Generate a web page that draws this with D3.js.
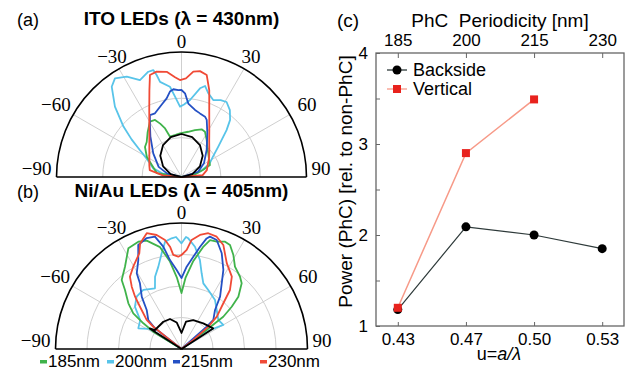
<!DOCTYPE html>
<html>
<head>
<meta charset="utf-8">
<script src="https://cdn.jsdelivr.net/npm/d3@7"></script>
<style>
  body { margin: 0; background: #fff; }
  svg { display: block; font-family: Arial, "Liberation Sans", sans-serif; }
</style>
</head>
<body>
<div id="chart"></div>
<script>
// ---------------- data ----------------

// panel (a) ITO LEDs, [angle deg, intensity rel. to outer ring], in drawing order
const ito185 = [[-90,0],[-81,0.2],[-60,0.32],[-50.6,0.378],[-44.8,0.395],[-37,0.45],[-29.7,0.51],[-24.9,0.503],[-21.8,0.46],[-18.7,0.41],[-15.9,0.335],[-8,0.34],[-2,0.35],[8.5,0.366],[16,0.39],[22.9,0.414],[27.4,0.408],[34.3,0.358],[40.4,0.318],[48.5,0.286],[58,0.26],[67.2,0.247],[72,0.18],[80,0.1],[90,0]];
const ito200 = [[-90,0],[-80,0.15],[-73,0.236],[-62.6,0.31],[-57,0.40],[-53,0.50],[-49,0.615],[-43.4,0.775],[-37.7,0.913],[-34,0.952],[-28.6,0.914],[-23.2,0.844],[-17.5,0.883],[-14.8,0.885],[-13.7,0.84],[-12.7,0.78],[-7.3,0.728],[-4.6,0.645],[-1.2,0.563],[2,0.58],[6.3,0.62],[11.8,0.725],[14.5,0.752],[17.8,0.703],[22.4,0.666],[27,0.69],[31,0.70],[35.9,0.66],[40.4,0.60],[43.9,0.52],[50.5,0.38],[57,0.30],[64.3,0.25],[72,0.17],[80,0.1],[90,0]];
const ito215 = [[-90,0],[-76,0.12],[-66,0.2],[-50,0.295],[-37.4,0.41],[-30.4,0.5],[-27,0.556],[-22.6,0.552],[-15.4,0.6],[-10.7,0.64],[-7.7,0.69],[-5.3,0.705],[-2.1,0.696],[0,0.696],[2.4,0.67],[5.3,0.59],[11.4,0.547],[16.2,0.53],[21.3,0.518],[23.8,0.5],[30.6,0.406],[43,0.295],[58.7,0.21],[72.5,0.14],[90,0]];
const ito230 = [[-90,0],[-85,0.15],[-77.7,0.26],[-70,0.274],[-60,0.297],[-50,0.336],[-40,0.40],[-34.4,0.456],[-25.7,0.595],[-20.3,0.74],[-17.2,0.854],[-13.3,0.866],[-8,0.85],[-3.7,0.80],[-0.9,0.776],[2.6,0.79],[6.4,0.848],[9.9,0.86],[13.9,0.84],[17.7,0.73],[22.5,0.58],[30.6,0.437],[38,0.36],[45.8,0.31],[55,0.27],[65.6,0.23],[75,0.21],[85,0.17],[90,0]];
const itoRef = [[-90,0],[-75,0.09],[-60,0.17],[-45,0.24],[-30,0.295],[-15,0.33],[0,0.344],[15,0.33],[30,0.295],[45,0.24],[60,0.17],[75,0.09],[90,0]];

// panel (b) Ni/Au LEDs
const niau185 = [[-58.5,0],[-58.5,0.263],[-56,0.365],[-53.5,0.476],[-49.3,0.556],[-43.8,0.648],[-40.9,0.725],[-34.5,0.792],[-27.8,0.904],[-21.9,0.918],[-17.8,0.903],[-11.9,0.826],[-7.5,0.70],[-3.6,0.565],[0,0.444],[3.2,0.565],[7.5,0.70],[11.9,0.826],[14.7,0.894],[18.2,0.897],[22.1,0.919],[25,0.911],[28.9,0.852],[33,0.779],[39,0.738],[42.5,0.707],[47.4,0.613],[49.9,0.521],[52.3,0.419],[52.5,0.335],[53,0.25],[53,0]];
const niau200 = [[-58,0],[-58,0.3],[-64.4,0.38],[-55,0.40],[-47.7,0.50],[-40.6,0.547],[-32.9,0.558],[-23.6,0.526],[-20.1,0.611],[-15.7,0.679],[-11.7,0.776],[-8.7,0.862],[-5.1,0.882],[-2.8,0.89],[0,0.839],[2.3,0.89],[3.5,0.88],[7.5,0.819],[11.7,0.721],[14.9,0.622],[18.4,0.549],[24.4,0.514],[34.4,0.471],[42.1,0.417],[51.8,0.372],[60.1,0.383],[56.3,0.272],[56,0]];
const niau215 = [[-52,0],[-52,0.267],[-48.9,0.35],[-41.7,0.415],[-37.3,0.52],[-32.3,0.617],[-30.6,0.698],[-25.9,0.785],[-22.6,0.894],[-17.4,0.923],[-13.3,0.916],[-10.1,0.825],[-7.4,0.712],[-3.5,0.628],[0,0.563],[3.6,0.655],[7.3,0.738],[10.3,0.825],[12.8,0.90],[14.2,0.92],[17.9,0.909],[22.8,0.824],[27.9,0.71],[31.5,0.611],[36.4,0.516],[40.7,0.408],[47.6,0.342],[48.5,0.267],[50,0]];
const niau230 = [[-55,0],[-52,0.14],[-51.7,0.285],[-50.2,0.36],[-44.5,0.47],[-41.6,0.555],[-38.6,0.633],[-35.5,0.705],[-30.4,0.757],[-23.8,0.83],[-21.4,0.90],[-16.7,0.96],[-12.3,0.926],[-8.6,0.875],[-6.4,0.817],[-5,0.75],[-2,0.733],[0,0.746],[3,0.787],[5.3,0.869],[9.2,0.917],[13,0.943],[17.4,0.934],[21.9,0.89],[27.8,0.77],[34.8,0.70],[39.4,0.606],[42.5,0.49],[47.5,0.38],[50.2,0.277],[52.7,0.118],[55,0]];
const niauRef = [[-57,0],[-57,0.3],[-54.4,0.259],[-33.7,0.26],[-21,0.255],[-10.3,0.214],[0,0.127],[9.4,0.22],[22.1,0.248],[40.3,0.267],[57,0.30],[57,0]];

const polarTicks = [-90, -60, -30, 0, 30, 60, 90];
const polarLegend = ['185nm', '200nm', '215nm', '230nm'];

// panel (c)
const periodLabels = ['185', '200', '215', '230'];
const uLabels = ['0.43', '0.47', '0.50', '0.53'];
const backsidePower = [1.18, 2.09, 2.0, 1.85];
const verticalPower = [1.2, 2.9, 3.49];
const powerTicks = [1, 1.5, 2, 2.5, 3, 3.5, 4];
const powerLegend = ['Backside', 'Vertical'];

// ---------------- styles / layout ----------------
const polarColors = ['#40b34b', '#58c4e9', '#2450c4', '#f04a36'];
const legendX = [40, 107, 173, 260];
const labelPad = { 0: 4, 30: 14, 60: 20, 90: 5 };

const svg = d3.select('#chart').append('svg')
    .attr('width', 633)
    .attr('height', 375);

const panels = [
    { tag: '(a)', title: 'ITO LEDs (λ = 430nm)', cx: 181.5, cy: 177, radius: 125, rings: [0.315, 0.63],
      curves: [ito200, ito185, ito215, ito230], colors: [polarColors[1], polarColors[0], polarColors[2], polarColors[3]], ref: itoRef },
    { tag: '(b)', title: 'Ni/Au LEDs (λ = 405nm)', cx: 181.5, cy: 349, radius: 126, rings: [0.25, 0.5, 0.75],
      curves: [niau200, niau185, niau215, niau230], colors: [polarColors[1], polarColors[0], polarColors[2], polarColors[3]], ref: niauRef }
];

function draw_polar_panel(panel) {

    const group = svg.append('g').attr('transform', `translate(${panel.cx},${panel.cy})`);

    // scales
    const angleScale = d3.scaleLinear().domain([-90, 90]).range([-Math.PI / 2, Math.PI / 2]);
    const radiusScale = d3.scaleLinear().domain([0, 1]).range([0, panel.radius]);

    const half_circle = (r) => {
        const p = d3.path();
        p.arc(0, 0, radiusScale(r), Math.PI, 2 * Math.PI);
        return p.toString();
    };

    // grid rings + spokes
    group.selectAll('.ring')
        .data(panel.rings)
        .join('path')
        .attr('class', 'ring')
        .attr('d', half_circle)
        .attr('fill', 'none')
        .attr('stroke', '#cfcfcf')
        .attr('stroke-width', 1);

    group.selectAll('.spoke')
        .data(polarTicks.filter(a => Math.abs(a) < 90))
        .join('line')
        .attr('class', 'spoke')
        .attr('x2', a => d3.pointRadial(angleScale(a), radiusScale(1))[0])
        .attr('y2', a => d3.pointRadial(angleScale(a), radiusScale(1))[1])
        .attr('stroke', '#cfcfcf')
        .attr('stroke-width', 1);

    // curves
    const line = d3.lineRadial()
        .angle(d => angleScale(d[0]))
        .radius(d => radiusScale(d[1]));

    group.selectAll('.curve')
        .data(panel.curves)
        .join('path')
        .attr('class', 'curve')
        .attr('d', line)
        .attr('fill', 'none')
        .attr('stroke', (d, i) => panel.colors[i])
        .attr('stroke-width', 1.8)
        .attr('stroke-linejoin', 'round');

    group.append('path')
        .attr('d', line(panel.ref))
        .attr('fill', 'none')
        .attr('stroke', '#000')
        .attr('stroke-width', 1.8)
        .attr('stroke-linejoin', 'round');

    // outer frame
    group.append('path')
        .attr('d', half_circle(1) + `M${-radiusScale(1)},0H${radiusScale(1)}`)
        .attr('fill', 'none')
        .attr('stroke', '#000')
        .attr('stroke-width', 1.6);

    // angle labels
    group.selectAll('.angle-label')
        .data(polarTicks)
        .join('text')
        .attr('class', 'angle-label')
        .attr('x', a => d3.pointRadial(angleScale(a), radiusScale(1) + labelPad[Math.abs(a)])[0])
        .attr('y', a => d3.pointRadial(angleScale(a), radiusScale(1) + labelPad[Math.abs(a)])[1])
        .attr('dy', a => Math.abs(a) === 90 ? '-0.1em' : (a === 0 ? '0' : '0.35em'))
        .attr('text-anchor', a => Math.abs(a) === 90 ? (a < 0 ? 'end' : 'start') : 'middle')
        .attr('font-family', '"Liberation Serif", "Times New Roman", serif')
        .attr('font-size', 19)
        .text(a => (a < 0 ? '\u2212' + Math.abs(a) : a));

    // titles
    svg.append('text')
        .attr('x', 17).attr('y', panel.cy - 151)
        .attr('font-size', 18)
        .text(panel.tag);

    svg.append('text')
        .attr('x', panel.cx).attr('y', panel.cy - 152)
        .attr('text-anchor', 'middle')
        .attr('font-size', 19)
        .attr('font-weight', 'bold')
        .text(panel.title);
}

panels.forEach(draw_polar_panel);

// legend under panel (b)
const polarLegendGroup = svg.append('g');
polarLegend.forEach((label, i) => {
    polarLegendGroup.append('rect')
        .attr('x', legendX[i]).attr('y', 360)
        .attr('width', 7).attr('height', 3.5)
        .attr('fill', polarColors[i]);
    polarLegendGroup.append('text')
        .attr('x', legendX[i] + 8).attr('y', 367)
        .attr('font-size', 17)
        .text(label);
});

// ---------------- panel (c) ----------------
const box = { left: 376, right: 624, top: 53, bottom: 326 };

// scales
const xScale = d3.scalePoint().domain(d3.range(uLabels.length)).range([box.left, box.right]).padding(0.32);
const yScale = d3.scaleLinear().domain([1, 4]).range([box.bottom, box.top]);

// axes
const style_axis = (g) => {
    g.select('.domain').remove();
    g.selectAll('.tick line').attr('stroke', '#666');
    g.selectAll('.tick text').attr('font-size', 17).attr('font-family', 'Arial, "Liberation Sans", sans-serif').attr('fill', '#000');
};

svg.append('g')
    .attr('transform', `translate(0,${box.bottom})`)
    .call(d3.axisBottom(xScale).tickFormat(i => uLabels[i]).tickSizeInner(-4).tickSizeOuter(0).tickPadding(7))
    .call(style_axis);

svg.append('g')
    .attr('transform', `translate(0,${box.top})`)
    .call(d3.axisTop(xScale).tickFormat(i => periodLabels[i]).tickSizeInner(-5).tickSizeOuter(0).tickPadding(7))
    .call(style_axis);

svg.append('g')
    .attr('transform', `translate(${box.left},0)`)
    .call(d3.axisLeft(yScale).tickValues(powerTicks).tickFormat(d => Number.isInteger(d) ? d : '').tickSizeInner(-4).tickSizeOuter(0).tickPadding(8))
    .call(style_axis);

svg.append('rect')
    .attr('x', box.left).attr('y', box.top)
    .attr('width', box.right - box.left).attr('height', box.bottom - box.top)
    .attr('fill', 'none')
    .attr('stroke', '#666')
    .attr('stroke-width', 1.3);

// axis titles
svg.append('text').attr('x', 337).attr('y', 27).attr('font-size', 19).text('(c)');
svg.append('text').attr('x', 500).attr('y', 27).attr('text-anchor', 'middle').attr('font-size', 19)
    .attr('xml:space', 'preserve').text('PhC  Periodicity [nm]');

const xTitle = svg.append('text').attr('x', 499).attr('y', 360).attr('text-anchor', 'middle').attr('font-size', 18);
xTitle.append('tspan').text('u=');
xTitle.append('tspan').attr('font-style', 'italic').text('a/λ');

svg.append('text')
    .attr('transform', `translate(352,${(box.top + box.bottom) / 2 - 8}) rotate(-90)`)
    .attr('text-anchor', 'middle')
    .attr('font-size', 19)
    .text('Power (PhC) [rel. to non-PhC]');

// series
const powerLine = d3.line().x((d, i) => xScale(i)).y(d => yScale(d));

svg.append('path')
    .attr('d', powerLine(backsidePower))
    .attr('fill', 'none').attr('stroke', '#2e3a3a').attr('stroke-width', 1.2);

svg.selectAll('.backside')
    .data(backsidePower)
    .join('circle')
    .attr('class', 'backside')
    .attr('cx', (d, i) => xScale(i))
    .attr('cy', d => yScale(d))
    .attr('r', 4.5)
    .attr('fill', '#000');

svg.append('path')
    .attr('d', powerLine(verticalPower))
    .attr('fill', 'none').attr('stroke', '#f79a88').attr('stroke-width', 1.5);

svg.selectAll('.vertical')
    .data(verticalPower)
    .join('rect')
    .attr('class', 'vertical')
    .attr('x', (d, i) => xScale(i) - 4)
    .attr('y', d => yScale(d) - 4)
    .attr('width', 8).attr('height', 8)
    .attr('fill', '#e8221d');

// legend
const powerLegendGroup = svg.append('g').attr('transform', 'translate(387,70)');
powerLegend.forEach((label, i) => {
    const item = powerLegendGroup.append('g').attr('transform', `translate(0,${i * 19})`);
    item.append('line').attr('x1', 0).attr('x2', 20)
        .attr('stroke', i === 0 ? '#2e3a3a' : '#f79a88').attr('stroke-width', 1.3);
    if (i === 0) {
        item.append('circle').attr('cx', 10).attr('r', 4.5).attr('fill', '#000');
    } else {
        item.append('rect').attr('x', 6).attr('y', -4).attr('width', 8).attr('height', 8).attr('fill', '#e8221d');
    }
    item.append('text').attr('x', 26).attr('dy', '0.35em').attr('font-size', 18).text(label);
});
</script>
</body>
</html>
